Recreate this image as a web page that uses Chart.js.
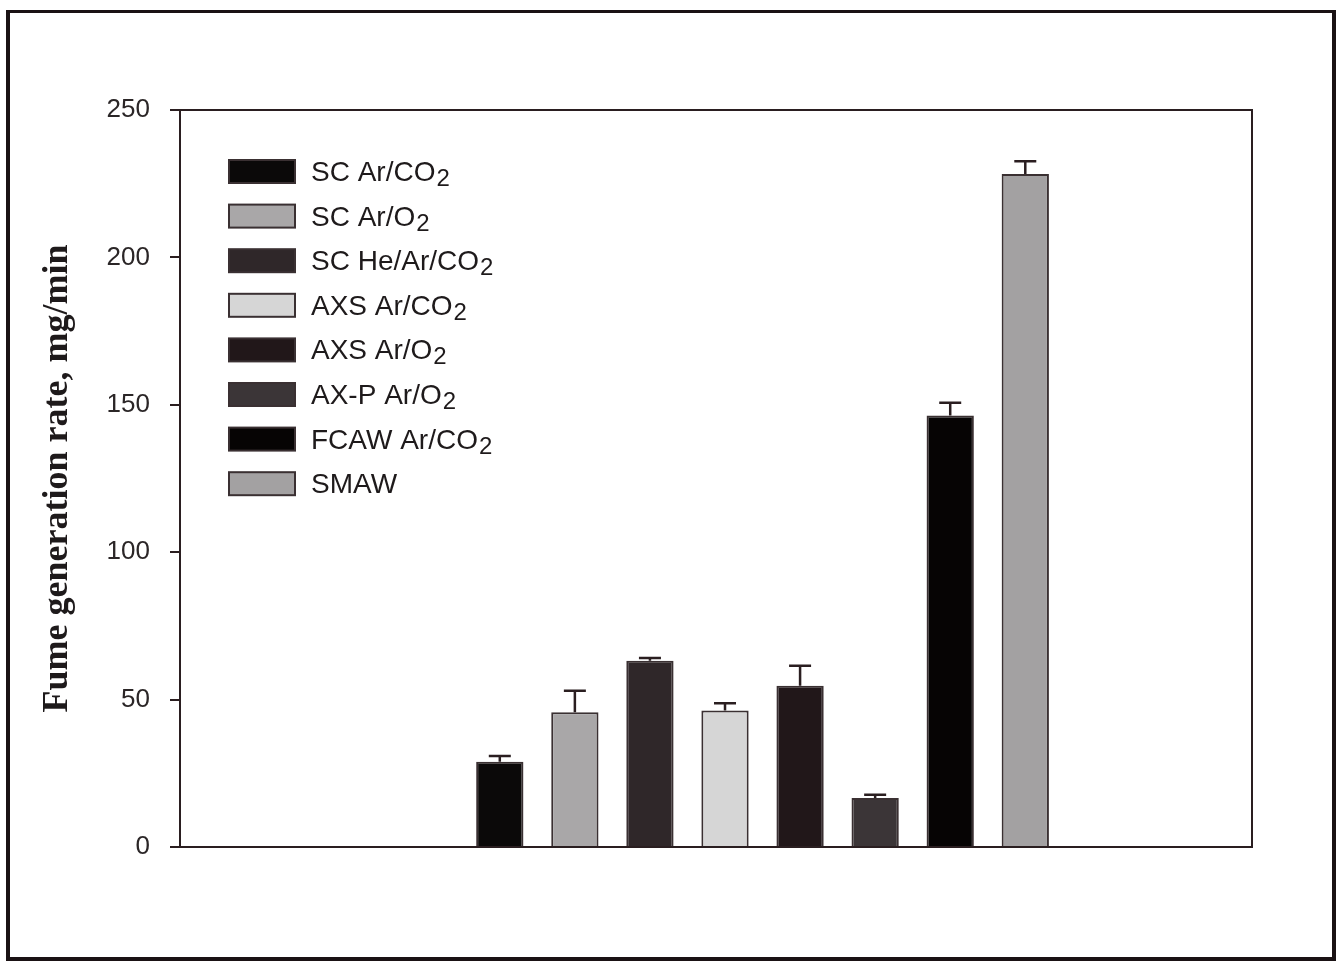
<!DOCTYPE html>
<html>
<head>
<meta charset="utf-8">
<script src="https://cdn.jsdelivr.net/npm/chart.js@4.4.1/dist/chart.umd.min.js"></script>
<style>
  html, body { margin: 0; padding: 0; background: #fff; }
  #wrap { position: relative; width: 1342px; height: 964px; }
  #frame { position: absolute; left: 6px; top: 10px; width: 1322px; height: 944px; border: 4px solid #1a1214; border-top-width: 3px; pointer-events: none; }
  canvas { position: absolute; left: 0; top: 0; }
</style>
</head>
<body>
<div id="wrap">
  <canvas id="c" width="1342" height="964"></canvas>
  <div id="frame"></div>
</div>
<script>
const labels = ['SC Ar/CO₂', 'SC Ar/O₂', 'SC He/Ar/CO₂', 'AXS Ar/CO₂', 'AXS Ar/O₂', 'AX-P Ar/O₂', 'FCAW Ar/CO₂', 'SMAW'];
const values = [28.9, 45.7, 63.2, 46.3, 54.7, 16.6, 146.4, 228.3];
const errors = [2.0, 7.3, 0.9, 2.5, 6.8, 1.1, 4.3, 4.3];
const colors = ['#0b0909', '#a9a7a8', '#2f2729', '#d6d6d6', '#211719', '#3b3537', '#060404', '#a3a1a2'];
const yTicks = [0, 50, 100, 150, 200, 250];

const ink = '#2a1e20';

// legend drawn inside the plot, with subscript 2
const legendPlugin = {
    id: 'insideLegend',
    afterDatasetsDraw(chart) {
        const ctx = chart.ctx;
        const a = chart.chartArea;
        const x0 = a.left + 49, y0 = a.top + 61, step = 44.6;
        ctx.save();
        labels.forEach((lab, i) => {
            const cy = y0 + i * step;
            ctx.fillStyle = colors[i];
            ctx.fillRect(x0, cy - 11, 66, 23);
            ctx.strokeStyle = '#3a3032';
            ctx.lineWidth = 2;
            ctx.strokeRect(x0, cy - 11, 66, 23);
            ctx.fillStyle = '#1e1a1b';
            ctx.textBaseline = 'alphabetic';
            let tx = x0 + 82;
            const parts = lab.split('₂');
            ctx.font = '28px "Liberation Sans", Arial, sans-serif';
            ctx.fillText(parts[0], tx, cy + 10);
            if (parts.length > 1) {
                tx += ctx.measureText(parts[0]).width;
                ctx.font = '24px "Liberation Sans", Arial, sans-serif';
                ctx.fillText('2', tx + 1, cy + 15);
            }
        });
        ctx.restore();
    }
};

// error bars (upper only) and plot frame
const errPlugin = {
    id: 'errBars',
    afterDatasetsDraw(chart) {
        const ctx = chart.ctx;
        const y = chart.scales.y;
        ctx.save();
        ctx.strokeStyle = ink;
        ctx.lineWidth = 2.5;
        chart.data.datasets.forEach((ds, i) => {
            const bar = chart.getDatasetMeta(i).data[0];
            const top = y.getPixelForValue(values[i] + errors[i]);
            ctx.beginPath();
            ctx.moveTo(bar.x, bar.y);
            ctx.lineTo(bar.x, top);
            ctx.moveTo(bar.x - 11, top);
            ctx.lineTo(bar.x + 11, top);
            ctx.stroke();
        });
        const a = chart.chartArea;
        ctx.lineWidth = 2;
        ctx.strokeRect(a.left, a.top, a.right - a.left, a.bottom - a.top);
        ctx.restore();
    }
};

new Chart(document.getElementById('c'), {
    type: 'bar',
    data: {
        datasets: labels.map((lab, i) => ({
            label: lab,
            data: [{ x: i + 1, y: values[i] }],
            backgroundColor: colors[i],
            borderColor: '#3a3032',
            borderWidth: 2,
            grouped: false,
            barPercentage: 0.63,
            categoryPercentage: 1
        }))
    },
    options: {
        responsive: false,
        animation: false,
        layout: { padding: { left: 34, top: 110, right: 90, bottom: 117 } },
        plugins: { legend: { display: false }, tooltip: { enabled: false } },
        scales: {
            x: { type: 'linear', min: -3.26, max: 11.02, offset: false, display: false },
            y: {
                min: 0, max: 250,
                afterBuildTicks: (s) => { s.ticks = yTicks.map(v => ({ value: v })); },
                afterFit: (s) => { s.width = 146; },
                grid: { drawOnChartArea: false, drawTicks: true, tickLength: 10, color: ink, lineWidth: 2 },
                border: { display: true, color: ink, width: 2 },
                ticks: { padding: 20, color: '#2b2627', font: { family: '"Liberation Sans", Arial, sans-serif', size: 26 } },
                title: {
                    display: true,
                    text: 'Fume generation rate, mg/min',
                    color: '#1e1a1b',
                    padding: { top: 2, bottom: 0 },
                    font: { family: '"Liberation Serif", "Times New Roman", serif', size: 36, weight: 'bold' }
                }
            }
        }
    },
    plugins: [errPlugin, legendPlugin]
});
</script>
</body>
</html>
